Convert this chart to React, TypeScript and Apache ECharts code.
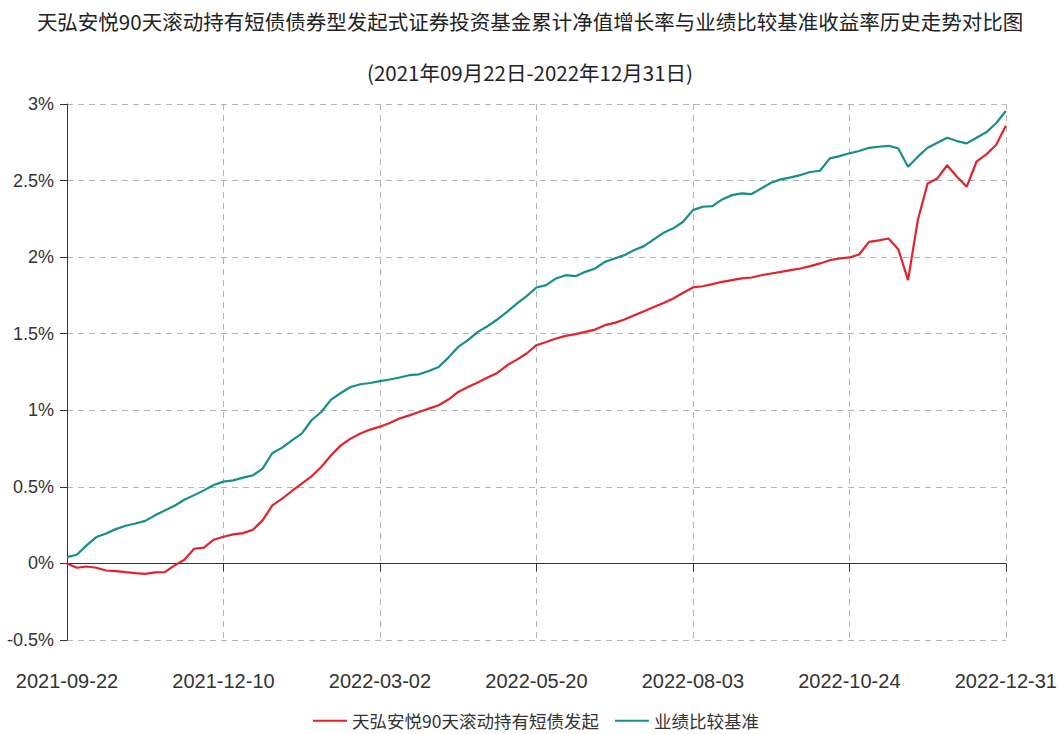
import React, { useEffect, useRef } from "react";
import * as echarts from "echarts";

const titleLine1 = "天弘安悦90天滚动持有短债债券型发起式证券投资基金累计净值增长率与业绩比较基准收益率历史走势对比图";
const titleLine2 = "(2021年09月22日-2022年12月31日)";
const seriesNames = ["天弘安悦90天滚动持有短债发起", "业绩比较基准"];
const tickLabels = ["2021-09-22", "2021-12-10", "2022-03-02", "2022-05-20", "2022-08-03", "2022-10-24", "2022-12-31"];
const pointsPerTick = 16;

const fundValues = [
  0.0, -0.028, -0.02, -0.028, -0.046, -0.05, -0.057, -0.063, -0.068, -0.059, -0.057, -0.013, 0.024, 0.096, 0.103, 0.155,
  0.174, 0.19, 0.198, 0.22, 0.281, 0.379, 0.423, 0.473, 0.521, 0.569, 0.63, 0.706, 0.771, 0.815, 0.848, 0.874,
  0.893, 0.917, 0.946, 0.967, 0.989, 1.011, 1.033, 1.07, 1.12, 1.152, 1.181, 1.214, 1.244, 1.294, 1.331, 1.371,
  1.425, 1.446, 1.469, 1.486, 1.497, 1.512, 1.527, 1.556, 1.571, 1.593, 1.621, 1.647, 1.675, 1.701, 1.73, 1.767,
  1.802, 1.81, 1.824, 1.839, 1.85, 1.861, 1.867, 1.882, 1.893, 1.904, 1.915, 1.926, 1.941, 1.959, 1.98, 1.991,
  1.998, 2.017, 2.1, 2.109, 2.122, 2.052, 1.85, 2.242, 2.481, 2.514, 2.6, 2.525, 2.46, 2.623, 2.671, 2.732,
  2.858,
];

const benchValues = [
  0.041, 0.057, 0.118, 0.172, 0.196, 0.224, 0.246, 0.261, 0.278, 0.314, 0.346, 0.377, 0.416, 0.446, 0.477, 0.512,
  0.534, 0.542, 0.56, 0.575, 0.619, 0.721, 0.756, 0.804, 0.848, 0.935, 0.989, 1.07, 1.113, 1.152, 1.17, 1.178,
  1.19, 1.201, 1.214, 1.229, 1.235, 1.257, 1.283, 1.344, 1.414, 1.458, 1.512, 1.549, 1.593, 1.643, 1.697, 1.745,
  1.802, 1.817, 1.861, 1.882, 1.876, 1.904, 1.926, 1.969, 1.991, 2.013, 2.046, 2.072, 2.116, 2.159, 2.188, 2.231,
  2.307, 2.329, 2.333, 2.377, 2.405, 2.416, 2.412, 2.449, 2.486, 2.508, 2.521, 2.536, 2.556, 2.564, 2.645, 2.66,
  2.678, 2.693, 2.714, 2.721, 2.727, 2.71, 2.59, 2.656, 2.714, 2.747, 2.78, 2.758, 2.743, 2.78, 2.815, 2.874,
  2.954,
];

const colors = ["#e3232b", "#178f89"];

export default function App() {
  const ref = useRef<HTMLDivElement>(null);
  useEffect(() => {
    document.body.style.margin = "0";
    if (!ref.current) return;
    const chart = echarts.init(ref.current, undefined, { renderer: "svg" });
    const maxIdx = (tickLabels.length - 1) * pointsPerTick;
    const gridDash = { color: "#b4b4b4", type: [6, 5] as any, width: 1 };
    chart.setOption({
      animation: false,
      backgroundColor: "#ffffff",
      title: [
        {
          text: titleLine1,
          left: "center",
          top: 6,
          textStyle: { fontSize: 20.5, fontWeight: "normal", color: "#222", fontFamily: "Noto Sans CJK SC" },
        },
        {
          text: titleLine2,
          left: "center",
          top: 57,
          textStyle: { fontSize: 20.5, fontWeight: "normal", color: "#222", fontFamily: "Noto Sans CJK SC" },
        },
      ],
      legend: {
        top: 707,
        left: 308,
        icon: "rect",
        itemWidth: 34,
        itemHeight: 2,
        itemGap: 16,
        textStyle: { fontSize: 17.5, color: "#333", fontFamily: "Noto Sans CJK SC" },
        data: seriesNames,
      },
      grid: { left: 67, right: 52, top: 104, bottom: 94 },
      xAxis: [
        {
          type: "value",
          min: 0,
          max: maxIdx,
          interval: pointsPerTick,
          axisLine: { show: false, onZero: false },
          axisTick: { show: false },
          axisLabel: {
            margin: 31,
            fontSize: 20,
            color: "#333",
            fontFamily: "Liberation Sans",
            formatter: (v: number) => tickLabels[Math.round(v / pointsPerTick)] ?? "",
          },
          splitLine: { show: true, lineStyle: gridDash },
        },
        {
          type: "value",
          position: "bottom",
          min: 0,
          max: maxIdx,
          interval: pointsPerTick,
          axisLine: { show: true, onZero: true, onZeroAxisIndex: 0, lineStyle: { color: "#333", width: 1 } },
          axisTick: { show: true, length: 8, lineStyle: { color: "#333" } },
          axisLabel: { show: false },
          splitLine: { show: false },
        },
      ],
      yAxis: {
        type: "value",
        min: -0.5,
        max: 3,
        interval: 0.5,
        axisLine: { show: true, lineStyle: { color: "#333", width: 1 } },
        axisTick: { show: true, length: 7, lineStyle: { color: "#333" } },
        axisLabel: {
          margin: 13,
          fontSize: 18,
          color: "#333",
          fontFamily: "Liberation Sans",
          formatter: (v: number) => `${Math.round(v * 10) / 10}%`,
        },
        splitLine: { show: true, lineStyle: gridDash },
      },
      series: [
        {
          name: seriesNames[0],
          type: "line",
          xAxisIndex: 0,
          showSymbol: false,
          color: colors[0],
          lineStyle: { width: 2.2, color: colors[0] },
          data: fundValues.map((v, i) => [i, v]),
          z: 3,
        },
        {
          name: seriesNames[1],
          type: "line",
          xAxisIndex: 0,
          showSymbol: false,
          color: colors[1],
          lineStyle: { width: 2.2, color: colors[1] },
          data: benchValues.map((v, i) => [i, v]),
          z: 2,
        },
      ],
    });
    return () => chart.dispose();
  }, []);
  return <div ref={ref} style={{ width: 1060, height: 734 }} />;
}
